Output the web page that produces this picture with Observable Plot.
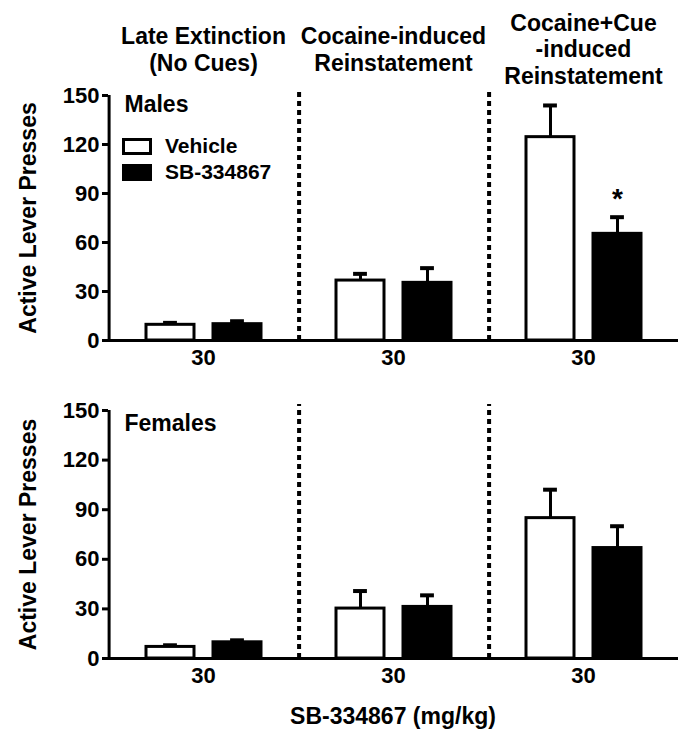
<!DOCTYPE html>
<html><head><meta charset="utf-8">
<script src="https://cdn.jsdelivr.net/npm/d3@7"></script>
<script src="https://cdn.jsdelivr.net/npm/@observablehq/plot@0.6"></script>
<style>
body{margin:0;background:#fff;font-family:"Liberation Sans",Arial,sans-serif;font-weight:bold;color:#000;}
#wrap{position:relative;width:685px;}
#wrap svg{display:block;}
.legend{position:absolute;left:122px;top:133px;font-size:21px;}
.row{display:flex;align-items:center;height:26px;}
.sw{width:24px;height:11px;border:3px solid #000;margin-right:13px;}
.xtitle{margin-left:107px;width:572px;text-align:center;font-size:23px;height:40px;line-height:40px;padding-top:3px;}
</style></head><body><div id="wrap"></div>
<script>
const phases = ["Late Extinction", "Cocaine-induced", "Cocaine+Cue"];
const phaseHeaders = ["Late Extinction\n(No Cues)", "Cocaine-induced\nReinstatement", "Cocaine+Cue\n-induced\nReinstatement"];
const treatments = ["Vehicle", "SB-334867"];
const doseLabels = ["30", "30", "30"];
const yTicks = [0, 30, 60, 90, 120, 150];
const yLabel = "Active Lever Presses";
const sexes = ["Males", "Females"];
const maleVehicleMean = [9.6, 36.7, 124.5];
const maleVehicleSem = [1.2, 4.1, 19.4];
const maleSBMean = [10, 35.3, 65.3];
const maleSBSem = [1.8, 9, 10.2];
const femaleVehicleMean = [7, 30.2, 84.9];
const femaleVehicleSem = [1, 10.6, 17.2];
const femaleSBMean = [9.8, 31.2, 66.8];
const femaleSBSem = [1.2, 7, 13.2];
const significant = [{sex: "Males", phase: "Cocaine+Cue", treatment: "SB-334867"}];

const series = {
  Males: [[maleVehicleMean, maleVehicleSem], [maleSBMean, maleSBSem]],
  Females: [[femaleVehicleMean, femaleVehicleSem], [femaleSBMean, femaleSBSem]]
};
const rows = [];
for (const sex of sexes) {
  phases.forEach((phase, i) => {
    treatments.forEach((treatment, j) => {
      const [m, s] = series[sex][j];
      rows.push({sex, phase, treatment, mean: m[i], sem: s[i]});
    });
  });
}

const W = 685, ML = 107, MR = 6;
const PI = 0.29, PO = 0.55;
const facetW = (W - ML - MR) / phases.length;
const inner = d3.scaleBand(treatments, [0, facetW]).paddingInner(PI).paddingOuter(PO);
const edgeDx = -(inner(treatments[0]) + inner.bandwidth() / 2);
const capInset = (inner.bandwidth() - 14) / 2;
const FONT = "'Liberation Sans', Arial, sans-serif";

function panel(sex, {height, marginTop, marginBottom, headers, labelDy}) {
  const data = rows.filter(d => d.sex === sex);
  const sig = significant.filter(s => s.sex === sex)
    .map(s => data.find(d => d.phase === s.phase && d.treatment === s.treatment));
  return Plot.plot({
    width: W, height, marginLeft: ML, marginRight: MR, marginTop, marginBottom,
    style: {fontFamily: FONT, fontWeight: "bold", fontSize: "22px", color: "#000", background: "#fff", overflow: "visible"},
    fx: {domain: phases, padding: 0},
    x: {domain: treatments, paddingInner: PI, paddingOuter: PO, axis: null},
    y: {domain: [0, 150]},
    color: {domain: treatments, range: ["#fff", "#000"]},
    marks: [
      Plot.axisY({ticks: yTicks, tickSize: 6, tickPadding: 3, strokeWidth: 3, label: null}),
      Plot.text([yLabel], {fx: () => phases[0], frameAnchor: "left", rotate: -90, lineAnchor: "top", textAnchor: "middle", dx: -89, fontSize: 23}),
      Plot.axisFx({anchor: "bottom", tickSize: 0, tickPadding: 9, tickFormat: d => doseLabels[phases.indexOf(d)], label: null}),
      Plot.ruleY([0], {strokeWidth: 3}),
      Plot.ruleX(phases.slice(0, 1), {fx: d => d, x: () => treatments[0], y1: 0, y2: 150, dx: edgeDx, strokeWidth: 3}),
      Plot.ruleX(phases.slice(1), {fx: d => d, x: () => treatments[0], y1: 0, y2: 150, dx: edgeDx, insetBottom: 6, strokeWidth: 4, strokeDasharray: "5,4"}),
      Plot.ruleX(data, {fx: "phase", x: "treatment", y1: "mean", y2: d => d.mean + d.sem, strokeWidth: 3}),
      Plot.tickY(data, {fx: "phase", x: "treatment", y: d => d.mean + d.sem, strokeWidth: 4, insetLeft: capInset, insetRight: capInset}),
      Plot.barY(data, {fx: "phase", x: "treatment", y: "mean", fill: "treatment", stroke: "#000", strokeWidth: 3}),
      Plot.text(sig, {fx: "phase", x: "treatment", y: d => d.mean + d.sem, text: () => "*", dy: -18, fontSize: 28}),
      Plot.text([sex], {fx: () => phases[0], frameAnchor: "top-left", textAnchor: "start", lineAnchor: "top", dx: 16, dy: labelDy, fontSize: 23}),
      headers ? Plot.text(phases, {fx: d => d, text: (d, i) => phaseHeaders[i], frameAnchor: "top", lineAnchor: "middle", dy: -46.5, lineHeight: 1.15, fontSize: 23}) : null
    ]
  });
}

const wrap = document.getElementById("wrap");
wrap.append(panel("Males", {height: 375, marginTop: 95, marginBottom: 35, headers: true, labelDy: 0}));
wrap.append(panel("Females", {height: 318, marginTop: 35, marginBottom: 35, headers: false, labelDy: 4}));

const legend = document.createElement("div");
legend.className = "legend";
treatments.forEach((t, i) => {
  const row = document.createElement("div");
  row.className = "row";
  const sw = document.createElement("div");
  sw.className = "sw";
  sw.style.background = ["#fff", "#000"][i];
  const lab = document.createElement("span");
  lab.textContent = t;
  row.append(sw, lab);
  legend.append(row);
});
wrap.append(legend);

const xt = document.createElement("div");
xt.className = "xtitle";
xt.textContent = "SB-334867 (mg/kg)";
wrap.append(xt);
</script>
</body></html>
